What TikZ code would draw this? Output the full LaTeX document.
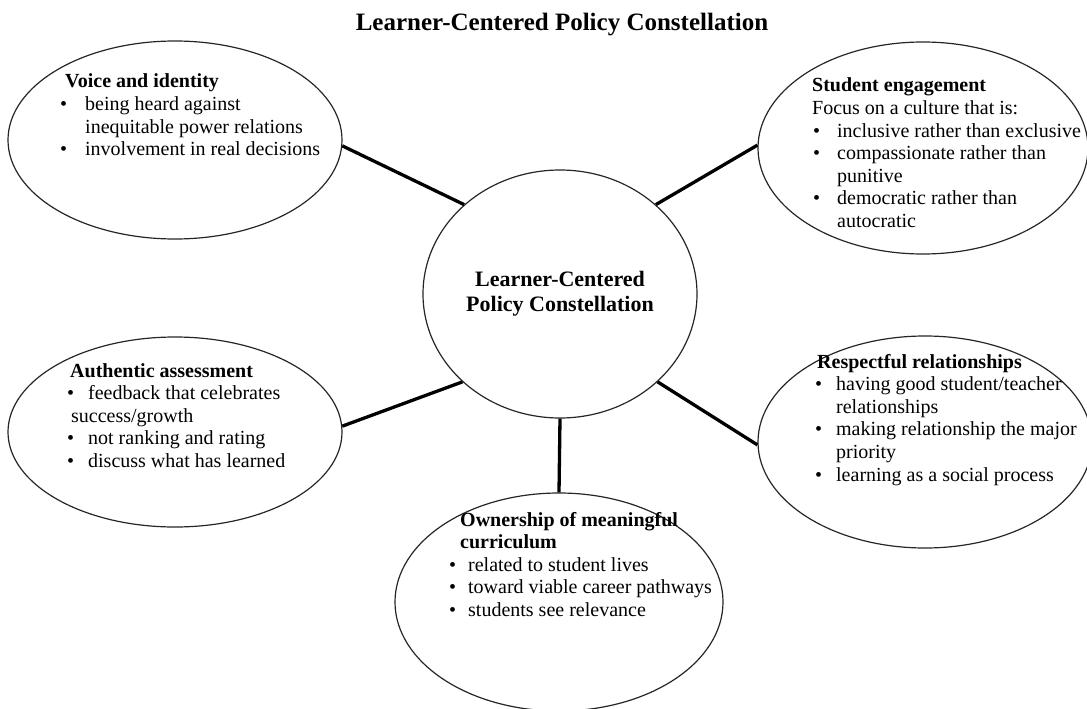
\documentclass[tikz,border=0pt]{standalone}
\usepackage{fontspec}
\setmainfont{Liberation Serif}
\usetikzlibrary{shapes.geometric}

% bullet list helpers: \bo = bullet offset from heading, \bw = bullet box width
\newlength\bo
\newlength\bw
\newcommand\hd[1]{\textbf{#1}}
\newcommand\bi[1]{\hspace*{\bo}\makebox[\bw][l]{•}#1}
\newcommand\bc[1]{\hspace*{\bo}\hspace*{\bw}#1}
\newcommand\blist[3]{\setlength\bo{#1}\setlength\bw{#2}%
  \begin{tabular}[t]{@{}l@{}}#3\end{tabular}}

\tikzset{
  bubble/.style={ellipse, draw=black!85, line width=1.2pt, inner sep=0pt, fill=white},
  hub/.style={bubble, font=\fontsize{22}{25}\selectfont\bfseries, align=center},
  blurb/.style={anchor=base west, inner sep=0pt, font=\fontsize{20}{22.6}\selectfont},
  spoke/.style={draw=black, line width=3.3pt},
}

\begin{document}
\begin{tikzpicture}[x=1pt,y=-1pt]
\useasboundingbox (0,0) rectangle (1087,709);

% title
\node[anchor=base, inner sep=0pt, font=\fontsize{25}{30}\selectfont\bfseries]
  (title) at (562,31) {Learner-Centered Policy Constellation};

% bubbles
\node[hub, minimum width=274pt, minimum height=248pt] (ctr) at (560,294)
  {Learner-Centered\\Policy Constellation};
\node[bubble, minimum width=334pt, minimum height=198pt] (voice) at (175,140) {};
\node[bubble, minimum width=330pt, minimum height=212pt] (engage) at (923,148) {};
\node[bubble, minimum width=334pt, minimum height=190pt] (assess) at (175,432) {};
\node[bubble, minimum width=334pt, minimum height=212pt] (respect) at (925,442) {};
\node[bubble, minimum width=328pt, minimum height=218pt] (own) at (559,602) {};

% spokes
\draw[spoke] (voice.-2) -- (ctr.137);
\draw[spoke] (engage.179) -- (ctr.43.5);
\draw[spoke] (assess.2.3) -- (ctr.222.5);
\draw[spoke] (respect.181) -- (ctr.-42.2);
\draw[spoke] (ctr.south) -- (own.north);

% bubble texts
\node[blurb] (voicetxt) at (65,88) {\blist{-5pt}{25pt}{%
  \hd{Voice and identity}\\
  \bi{being heard against}\\
  \bc{inequitable power relations}\\
  \bi{involvement in real decisions}}};

\node[blurb] (engagetxt) at (812,92) {\blist{1pt}{24pt}{%
  \hd{Student engagement}\\
  Focus on a culture that is:\\
  \bi{inclusive rather than exclusive}\\
  \bi{compassionate rather than}\\
  \bc{punitive}\\
  \bi{democratic rather than}\\
  \bc{autocratic}}};

\node[blurb] (assesstxt) at (70,377) {\blist{-3pt}{21pt}{%
  \hd{Authentic assessment}\\
  \bi{feedback that celebrates}\\
  \hspace*{1pt}success/growth\\
  \bi{not ranking and rating}\\
  \bi{discuss what has learned}}};

\node[blurb] (respecttxt) at (817,368) {\blist{-2pt}{21pt}{%
  \hd{Respectful relationships}\\
  \bi{having good student/teacher}\\
  \bc{relationships}\\
  \bi{making relationship the major}\\
  \bc{priority}\\
  \bi{learning as a social process}}};

\node[blurb] (owntxt) at (460,526) {\blist{-11pt}{19pt}{%
  \hd{Ownership of meaningful}\\
  \hd{curriculum}\\
  \bi{related to student lives}\\
  \bi{toward viable career pathways}\\
  \bi{students see relevance}}};
\end{tikzpicture}
\end{document}
